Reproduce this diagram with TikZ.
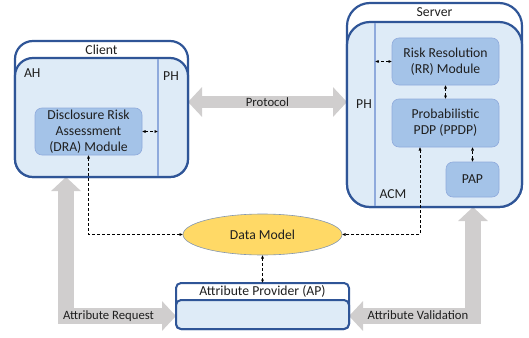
\documentclass[tikz,border=0pt]{standalone}
\usepackage{fontspec}
\setmainfont{Carlito}
\usetikzlibrary{arrows.meta,shapes.geometric,calc}
\definecolor{frameblue}{HTML}{2F5597}
\definecolor{panelfill}{HTML}{DEEBF7}
\definecolor{modfill}{HTML}{A4C3E8}
\definecolor{modline}{HTML}{8FAADC}
\definecolor{phline}{HTML}{8FAADC}
\definecolor{dmfill}{HTML}{FFD966}
\definecolor{dmline}{HTML}{8497B0}
\definecolor{fatgray}{HTML}{D0CECE}
\definecolor{ink}{HTML}{1F1F1F}
\pgfdeclarelayer{back}
\pgfsetlayers{back,main}

\begin{document}
\begin{tikzpicture}[x=1pt,y=-1pt,
  font=\fontsize{13.7}{16}\selectfont, text=ink,
  shell/.style={draw=frameblue, line width=2.2pt, fill=white, rounded corners=18pt,
    anchor=north west, inner sep=0pt, outer sep=0pt},
  panel/.style={shell, fill=panelfill},
  module/.style={draw=modline, line width=0.6pt, fill=modfill, rounded corners=7pt,
    align=center, inner sep=0pt, outer sep=0pt},
  lbl/.style={inner sep=0pt, outer sep=0pt},
  divider/.style={draw=phline, line width=1.3pt},
  link/.style={draw=black, line width=0.8pt, dash pattern=on 3pt off 2pt,
    {Latex[length=3.5pt 0 0,width=3.2pt 0 0]}-{Latex[length=3.5pt 0 0,width=3.2pt 0 0]}},
  fatarrow/.style={draw=fatgray, line width=#1, line join=miter,
    {Triangle[length=14pt 0 0,width=29pt 0 0]}-{Triangle[length=14pt 0 0,width=29pt 0 0]}},
  fatlabel/.style={lbl, font=\fontsize{12.7}{15}\selectfont},
]
\useasboundingbox (0,0) rectangle (529,337);

% client side
\node[shell, minimum width=173pt, minimum height=136pt] (client) at (15,41) {};
\node[panel, minimum width=173pt, minimum height=119pt] (clientin) at (15,58) {};
\node[lbl] (clientlbl) at (101.5,49.5) {Client};
\draw[divider] (158,59.2) coordinate (cphtop) -- (158,175.8) coordinate (cphbot);
\node[lbl, anchor=west] (ah) at (24,73) {AH};
\node[lbl] (cph) at (171,76) {PH};
\node[module, minimum width=107pt, minimum height=47pt] (dra) at (88.5,131.5)
  {Disclosure Risk\\Assessment\\(DRA) Module};

% server side
\node[shell, rounded corners=23pt, minimum width=175pt, minimum height=204pt] (server) at (347,3) {};
\node[panel, rounded corners=23pt, minimum width=175pt, minimum height=185pt] (serverin) at (347,22) {};
\node[lbl] (serverlbl) at (434.5,12.5) {Server};
\draw[divider] (375,23.2) coordinate (sphtop) -- (375,205.8) coordinate (sphbot);
\node[lbl] (sph) at (364,104) {PH};
\node[lbl] (acm) at (393,194) {ACM};
\node[module, minimum width=107pt, minimum height=47pt] (rr) at (445.5,61.5)
  {Risk Resolution\\(RR) Module};
\node[module, minimum width=107pt, minimum height=48pt] (ppdp) at (445.5,123)
  {Probabilistic\\PDP (PPDP)};
\node[module, minimum width=53pt, minimum height=35pt] (pap) at (472.5,179.5) {PAP};

% attribute provider
\node[shell, rounded corners=5pt, line width=2pt, minimum width=173pt, minimum height=46pt] (ap) at (176,283) {};
\node[panel, rounded corners=5pt, line width=2pt, minimum width=173pt, minimum height=29pt] (apin) at (176,300) {};
\node[lbl] (aplbl) at (262.5,291.5) {Attribute Provider (AP)};

% data model
\node[ellipse, draw=dmline, line width=0.6pt, fill=dmfill, minimum width=159pt,
  minimum height=41pt, inner sep=0pt, outer sep=0pt] (dm) at (262.5,234.5) {Data Model};

% wide grey arrows, kept under the boxes
\begin{pgfonlayer}{back}
  \draw[fatarrow=12pt] (clientin.east |- 0,102) -- (serverin.west |- 0,102)
    node[fatlabel, text=ink, midway] (proto) {Protocol};
  \draw[fatarrow=16pt] (clientin.south -| 66,0) -- (66,316) coordinate (reqcorner)
    -- (ap.west |- 0,316);
  \draw[fatarrow=16pt] (serverin.south -| 473,0) -- (473,316) coordinate (valcorner)
    -- (ap.east |- 0,316);
\end{pgfonlayer}
\node[fatlabel] (req) at (108.5,316) {Attribute Request};
\node[fatlabel] (val) at (418,315) {Attribute Validation};

% dashed links
\draw[link] (dra.east) -- (dra.east -| cphtop);
\draw[link] (rr.west) -- (rr.west -| sphtop);
\draw[link] (rr.south) -- (ppdp.north);
\draw[link] (pap.north) -- (pap.north |- ppdp.south);
\draw[link] (dra.south) |- (dm.west);
\draw[link] ([xshift=-25.5pt]ppdp.south) |- (dm.east);
\draw[link] (dm.south) -- (ap.north);
\end{tikzpicture}
\end{document}
